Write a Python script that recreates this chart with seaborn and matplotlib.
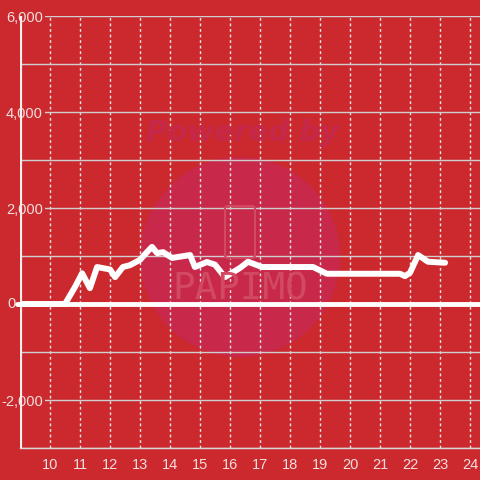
import matplotlib
matplotlib.use("Agg")
import matplotlib.pyplot as plt
import seaborn as sns
import pandas as pd
from matplotlib.ticker import MultipleLocator, FuncFormatter
from matplotlib.patches import Circle, FancyBboxPatch

hours = [9.0, 10.5, 10.83, 11.07, 11.33, 11.57, 12.0, 12.17, 12.43, 12.67, 13.0, 13.23, 13.4,
         13.57, 13.77, 14.07, 14.67, 14.83, 15.23, 15.5, 15.83, 16.33, 16.6, 17.07, 18.77,
         19.23, 21.67, 21.83, 22.0, 22.27, 22.6, 23.17]
values = [0, 0, 350, 640, 330, 770, 720, 560, 770, 810, 920, 1080, 1190,
          1060, 1080, 960, 1020, 770, 875, 820, 560, 750, 880, 770, 770,
          630, 630, 580, 650, 1020, 880, 860]
x_ticks = list(range(10, 25))
y_ticks = [-2000, 0, 2000, 4000, 6000]

bg = "#cc292e"
label_col = "#f3dede"

sns.set_theme(style="white")
plt.rcParams["font.family"] = ["Liberation Sans", "DejaVu Sans"]

fig = plt.figure(figsize=(4.8, 4.8), dpi=100)
fig.patch.set_facecolor(bg)
ax = fig.add_axes([20/480, 32/480, 460/480, 432/480])
ax.set_facecolor(bg)

df = pd.DataFrame({"hour": hours, "value": values})

# watermark
ax.add_patch(Circle((240/480, 1-257/480), 100/480, transform=fig.transFigure,
                    facecolor="#c8284a", edgecolor="none", zorder=0.5))
ax.add_patch(FancyBboxPatch((225/480, 1-258/480), 30/480, 52/480, transform=fig.transFigure,
                            boxstyle="round,pad=0,rounding_size=0.006",
                            facecolor="none", edgecolor="#d24a62", lw=1.5, zorder=0.6))
fig.text(243/480, 1-133/480, "Powered by", ha="center", va="center", fontsize=21,
         fontweight="bold", style="italic", color="#c6284a", family=["DejaVu Sans"], zorder=0.6)
fig.text(240/480, 1-290/480, "PAPIMO", ha="center", va="center", fontsize=27,
         color="#d24a62", family=["DejaVu Sans Mono"], fontweight="light", zorder=0.6)

ax.axvline(9.0, color="#f5f0f0", lw=3, zorder=1)
ax.axhline(0, xmin=-0.007, color="white", lw=3.5, zorder=2, clip_on=False)

sns.lineplot(data=df, x="hour", y="value", ax=ax, color="white", lw=4.3, zorder=3)

ax.set_xlim(9.0, 24.333)
ax.set_ylim(-3000, 6000)
ax.set_xticks(x_ticks)
ax.set_yticks(y_ticks)
ax.yaxis.set_minor_locator(MultipleLocator(1000))
ax.yaxis.set_major_formatter(FuncFormatter(lambda v, p: "" if v == 0 else f"{int(v):,}"))
ax.set_xlabel("")
ax.set_ylabel("")

ax.grid(True, axis="y", which="both", color="#cfcfcf", lw=1, ls="-")
ax.grid(True, axis="x", which="major", color="#e8e8e8", lw=1, ls=(0, (2, 2)))
ax.set_axisbelow(True)

for s in ["top", "right", "left"]:
    ax.spines[s].set_visible(False)
ax.spines["bottom"].set_color("#d8d8d8")
ax.spines["bottom"].set_linewidth(1)

ax.tick_params(axis="x", length=0, pad=7, labelsize=10.5, labelcolor=label_col)
ax.tick_params(axis="y", which="both", length=0, pad=-16.5, labelsize=10.5, labelcolor=label_col)
for lbl in ax.get_yticklabels():
    lbl.set_bbox(dict(facecolor=bg, edgecolor="none", pad=1.5))

fig.text(15.5/480, 1-304/480, "0", ha="right", va="center", fontsize=10.5,
         color=label_col, zorder=5)

fig.savefig("out.png", dpi=100, facecolor=bg)
